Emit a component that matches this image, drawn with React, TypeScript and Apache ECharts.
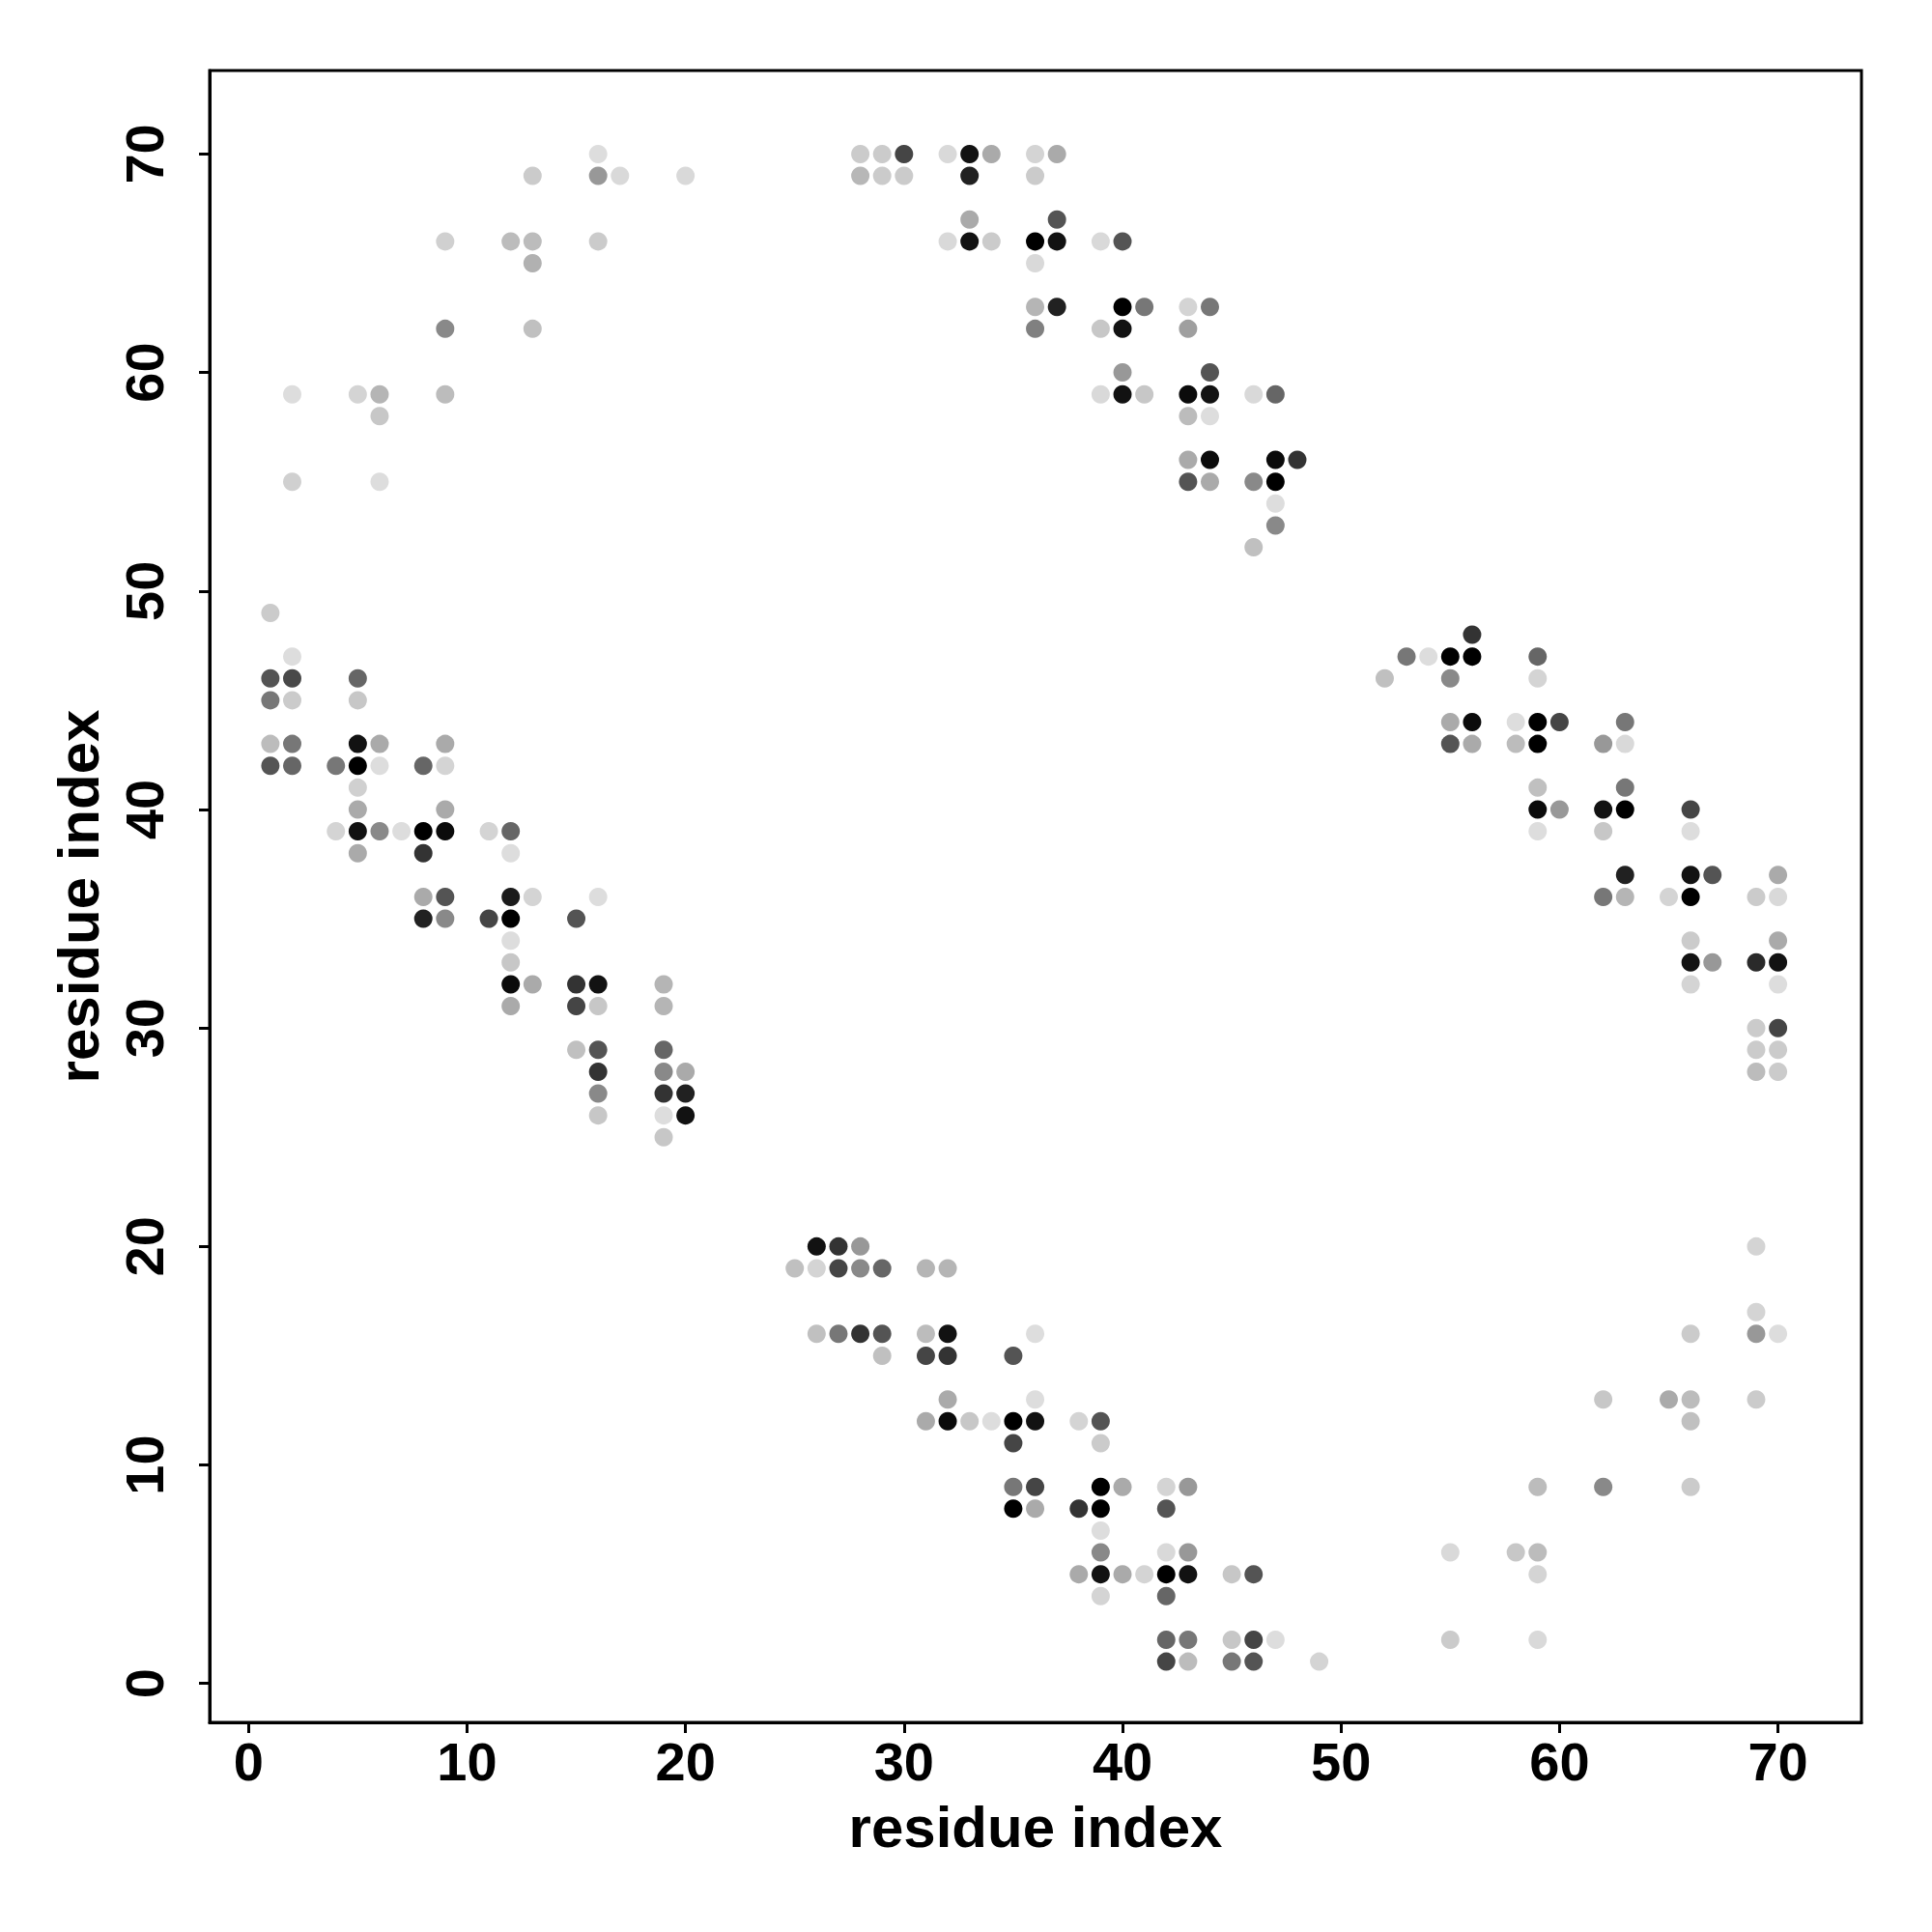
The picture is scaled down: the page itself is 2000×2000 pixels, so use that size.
import React, { useEffect, useRef } from "react";
import * as echarts from "echarts";

// Tick labels
const xTicks = [0, 10, 20, 30, 40, 50, 60, 70];
const yTicks = [0, 10, 20, 30, 40, 50, 60, 70];

// Contacts: [residue i, residue j, strength 0..1 (1 = darkest)]
const upperLeft = [
  [16, 70, 0.0], [13, 69, 0.08], [16, 69, 0.31], [17, 69, 0.02], [20, 69, 0.02],
  [9, 66, 0.06], [12, 66, 0.15], [13, 66, 0.15], [13, 65, 0.2], [16, 66, 0.08],
  [9, 62, 0.38], [13, 62, 0.13],
  [2, 59, 0.0], [5, 59, 0.04], [6, 59, 0.18], [9, 59, 0.15], [6, 58, 0.1],
  [2, 55, 0.06], [6, 55, 0.0],
];

const topMiddle = [
  [28, 70, 0.08], [29, 70, 0.08], [30, 70, 0.69], [28, 69, 0.17], [29, 69, 0.08], [30, 69, 0.08],
  [32, 70, 0.02], [33, 70, 0.92], [34, 70, 0.23], [33, 69, 0.85],
  [36, 70, 0.04], [37, 70, 0.23], [36, 69, 0.08],
  [33, 67, 0.23], [32, 66, 0.02], [33, 66, 0.92], [34, 66, 0.08],
  [37, 67, 0.62], [36, 66, 1.0], [37, 66, 0.92], [36, 65, 0.02],
  [36, 63, 0.18], [37, 63, 0.85], [36, 62, 0.42],
  [39, 66, 0.02], [40, 66, 0.62],
  [40, 63, 1.0], [41, 63, 0.46], [39, 62, 0.1], [40, 62, 0.92],
  [43, 63, 0.04], [44, 63, 0.46], [43, 62, 0.28],
  [40, 60, 0.31], [39, 59, 0.02], [40, 59, 0.92], [41, 59, 0.1],
  [44, 60, 0.62], [43, 59, 0.95], [44, 59, 0.92], [43, 58, 0.15], [44, 58, 0.0],
  [46, 59, 0.02], [47, 59, 0.54],
  [43, 56, 0.23], [44, 56, 0.95], [43, 55, 0.62], [44, 55, 0.23],
  [47, 56, 0.95], [48, 56, 0.77], [46, 55, 0.38], [47, 55, 1.0], [47, 54, 0.0], [47, 53, 0.38], [46, 52, 0.13],
];

const leftMiddle = [
  [1, 49, 0.08], [2, 47, 0.0], [1, 46, 0.62], [2, 46, 0.67], [1, 45, 0.46], [2, 45, 0.08],
  [5, 46, 0.54], [5, 45, 0.1],
  [1, 43, 0.15], [2, 43, 0.46], [1, 42, 0.62], [2, 42, 0.54], [4, 42, 0.46],
  [5, 43, 0.92], [6, 43, 0.23], [5, 42, 1.0], [6, 42, 0.0], [5, 41, 0.06], [5, 40, 0.23],
  [4, 39, 0.04], [5, 39, 0.92], [6, 39, 0.38], [7, 39, 0.0], [5, 38, 0.23],
  [9, 43, 0.23], [8, 42, 0.54], [9, 42, 0.04], [9, 40, 0.23],
  [8, 39, 1.0], [9, 39, 0.95], [8, 38, 0.77],
  [11, 39, 0.04], [12, 39, 0.54], [12, 38, 0.0],
  [8, 36, 0.23], [9, 36, 0.62], [8, 35, 0.85], [9, 35, 0.38],
  [11, 35, 0.69], [12, 36, 0.88], [13, 36, 0.04], [12, 35, 1.0], [12, 34, 0.0], [12, 33, 0.1],
  [12, 32, 0.95], [13, 32, 0.23], [12, 31, 0.23],
  [16, 36, 0.0], [15, 35, 0.62],
  [15, 32, 0.77], [16, 32, 0.92], [15, 31, 0.69], [16, 31, 0.1],
  [15, 29, 0.13], [16, 29, 0.62], [16, 28, 0.77], [16, 27, 0.38], [16, 26, 0.1],
  [19, 32, 0.18], [19, 31, 0.18], [19, 29, 0.54], [19, 28, 0.38], [20, 28, 0.23],
  [19, 27, 0.77], [20, 27, 0.85], [19, 26, 0.0], [20, 26, 0.92], [19, 25, 0.1],
];

const rightMiddle = [
  [56, 48, 0.77], [53, 47, 0.46], [54, 47, 0.0], [55, 47, 1.0], [56, 47, 1.0], [52, 46, 0.13], [55, 46, 0.38],
  [59, 47, 0.54], [59, 46, 0.04],
  [55, 44, 0.23], [56, 44, 0.95], [55, 43, 0.62], [56, 43, 0.23],
  [58, 44, 0.0], [59, 44, 1.0], [60, 44, 0.69], [58, 43, 0.15], [59, 43, 1.0],
  [59, 41, 0.13], [59, 40, 0.95], [60, 40, 0.31], [59, 39, 0.0],
  [63, 44, 0.46], [62, 43, 0.31], [63, 43, 0.02], [63, 41, 0.46], [62, 40, 0.92], [63, 40, 1.0], [62, 39, 0.1],
  [66, 40, 0.69], [66, 39, 0.0],
  [63, 37, 0.85], [62, 36, 0.46], [63, 36, 0.18],
  [66, 37, 0.92], [67, 37, 0.62], [65, 36, 0.04], [66, 36, 1.0],
  [70, 37, 0.23], [69, 36, 0.08], [70, 36, 0.02],
  [66, 34, 0.08], [66, 33, 0.92], [67, 33, 0.31], [66, 32, 0.04],
  [70, 34, 0.23], [69, 33, 0.81], [70, 33, 0.92], [70, 32, 0.0],
  [69, 30, 0.08], [70, 30, 0.69], [69, 29, 0.08], [70, 29, 0.08], [69, 28, 0.15], [70, 28, 0.08],
];

const bottomMiddle = [
  [26, 20, 0.92], [27, 20, 0.77], [28, 20, 0.31],
  [25, 19, 0.13], [26, 19, 0.04], [27, 19, 0.69], [28, 19, 0.38], [29, 19, 0.54], [31, 19, 0.18], [32, 19, 0.18],
  [26, 16, 0.13], [27, 16, 0.46], [28, 16, 0.77], [29, 16, 0.62], [29, 15, 0.13],
  [31, 16, 0.15], [32, 16, 0.92], [31, 15, 0.69], [32, 15, 0.77],
  [36, 16, 0.0], [35, 15, 0.62],
  [32, 13, 0.23], [31, 12, 0.23], [32, 12, 0.95], [33, 12, 0.1], [34, 12, 0.0], [35, 12, 1.0], [36, 12, 0.92], [36, 13, 0.0], [35, 11, 0.69],
  [35, 9, 0.46], [36, 9, 0.69], [35, 8, 1.0], [36, 8, 0.23],
  [38, 12, 0.04], [39, 12, 0.62], [39, 11, 0.08],
  [39, 9, 1.0], [40, 9, 0.23], [38, 8, 0.77], [39, 8, 1.0], [39, 7, 0.0], [39, 6, 0.38],
  [38, 5, 0.23], [39, 5, 0.92], [40, 5, 0.23], [41, 5, 0.04], [39, 4, 0.04],
  [42, 9, 0.04], [43, 9, 0.31], [42, 8, 0.62], [42, 6, 0.02], [43, 6, 0.31],
  [42, 5, 1.0], [43, 5, 0.92], [42, 4, 0.54],
  [45, 5, 0.1], [46, 5, 0.62],
  [42, 2, 0.54], [43, 2, 0.46], [42, 1, 0.69], [43, 1, 0.15],
  [45, 2, 0.1], [46, 2, 0.69], [47, 2, 0.0], [45, 1, 0.46], [46, 1, 0.62], [49, 1, 0.04],
];

const bottomRight = [
  [69, 20, 0.04], [69, 17, 0.04], [69, 16, 0.31], [70, 16, 0.0], [66, 16, 0.08],
  [62, 13, 0.1], [65, 13, 0.23], [66, 13, 0.15], [69, 13, 0.08], [66, 12, 0.13],
  [59, 9, 0.15], [62, 9, 0.38], [66, 9, 0.08],
  [55, 6, 0.02], [58, 6, 0.1], [59, 6, 0.15], [59, 5, 0.04],
  [55, 2, 0.08], [59, 2, 0.02],
];

const allContacts = [
  ...upperLeft,
  ...topMiddle,
  ...leftMiddle,
  ...rightMiddle,
  ...bottomMiddle,
  ...bottomRight,
];

function shade(w: number): string {
  const g = Math.round(221 * (1 - w));
  return `rgb(${g},${g},${g})`;
}

const FONT = "'Liberation Sans', Arial, Helvetica, sans-serif";

export default function App() {
  const ref = useRef<HTMLDivElement>(null);
  useEffect(() => {
    if (!ref.current) return;
    const chart = echarts.init(ref.current, null, { renderer: "svg" });
    const axisCommon = {
      type: "value" as const,
      min: -1.78,
      max: 73.82,
      splitLine: { show: false },
      axisLine: { show: true, onZero: false, lineStyle: { color: "#000", width: 3 } },
      axisTick: { show: true, length: 11, lineStyle: { color: "#000", width: 3 } },
      name: "residue index",
      nameLocation: "middle" as const,
      nameTextStyle: { fontFamily: FONT, fontWeight: "bold" as const, fontSize: 60, color: "#000" },
    };
    chart.setOption({
      animation: false,
      backgroundColor: "#ffffff",
      grid: {
        left: 217,
        top: 73,
        width: 1710,
        height: 1710,
        show: true,
        borderColor: "#000",
        borderWidth: 3,
        backgroundColor: "transparent",
      },
      xAxis: {
        ...axisCommon,
        nameGap: 78,
        axisTick: { ...axisCommon.axisTick, customValues: xTicks },
        axisLabel: {
          customValues: xTicks,
          fontFamily: FONT,
          fontWeight: "bold",
          fontSize: 56,
          color: "#000",
          margin: 12,
        },
      },
      yAxis: {
        ...axisCommon,
        nameGap: 106,
        axisTick: { ...axisCommon.axisTick, customValues: yTicks },
        axisLabel: {
          customValues: yTicks,
          rotate: 90,
          fontFamily: FONT,
          fontWeight: "bold",
          fontSize: 56,
          color: "#000",
          margin: 40,
        },
      },
      series: [
        {
          type: "scatter",
          symbol: "circle",
          symbolSize: 19,
          data: allContacts,
          encode: { x: 0, y: 1 },
          itemStyle: {
            opacity: 1,
            color: (p: any) => shade(p.data[2]),
          },
        },
      ],
    });
    return () => chart.dispose();
  }, []);
  return (
    <div
      ref={ref}
      style={{ position: "fixed", left: 0, top: 0, width: 2000, height: 2000, background: "#fff" }}
    />
  );
}
